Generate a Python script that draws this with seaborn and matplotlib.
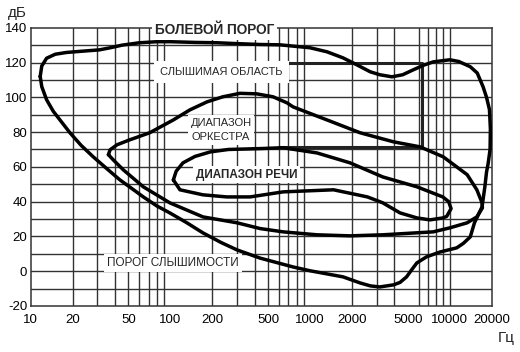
import matplotlib
matplotlib.use("Agg")
import matplotlib.pyplot as plt
from matplotlib.ticker import NullFormatter
import seaborn as sns
import pandas as pd

# Hearing area (closed curve): frequency, Hz / level, dB
outer_hz = [11.7, 12.0, 13.0, 15.0, 18.0, 21.4, 31.0, 37.0, 45.0, 60.0, 80.0, 100.0, 150.0,
            215.0, 300.0, 437.0, 610.0, 1000.0, 1320.0, 1720.0, 2160.0, 2690.0, 3150.0,
            3850.0, 4600.0, 5460.0, 6500.0, 7600.0, 10000.0, 11600.0, 14000.0, 15700.0,
            17300.0, 18300.0, 19200.0, 19500.0, 19400.0, 18800.0, 18300.0, 17800.0, 17000.0,
            15000.0, 14000.0, 12500.0, 11200.0, 8500.0, 6800.0, 5800.0, 5300.0, 4900.0,
            4400.0, 3950.0, 3150.0, 2700.0, 2280.0, 1720.0, 1000.0, 755.0, 438.0, 300.0,
            230.0, 171.0, 130.0, 99.0, 80.0, 64.0, 52.0, 43.5, 35.0, 28.0, 23.0, 19.1,
            16.2, 14.5, 13.0, 12.0, 11.7]
outer_db = [112.0, 118.0, 122.5, 124.8, 125.8, 126.3, 127.3, 128.5, 130.0, 131.4, 132.0, 132.0,
            131.6, 131.4, 130.9, 130.4, 130.2, 128.5, 126.2, 122.7, 118.7, 114.7, 113.0,
            111.8, 113.0, 115.8, 118.5, 120.4, 121.6, 120.6, 117.6, 114.0, 106.0, 100.0,
            93.0, 82.0, 70.0, 62.0, 57.0, 48.5, 37.0, 27.8, 19.7, 16.0, 13.4, 11.0, 8.2,
            4.7, 0.5, -3.3, -6.5, -7.9, -9.1, -8.5, -6.8, -3.3, 0.2, 2.4, 7.5, 12.2, 16.5,
            22.0, 28.0, 33.5, 37.5, 42.7, 48.0, 52.5, 59.0, 65.8, 72.3, 79.6, 87.0, 92.0,
            98.6, 106.2, 112.0]

# Orchestra range (closed curve)
orch_hz = [36.0, 37.0, 41.5, 51.0, 71.0, 105.0, 138.0, 183.0, 237.0, 315.0, 415.0, 543.0,
           684.0, 755.0, 1320.0, 2280.0, 3950.0, 6120.0, 8950.0, 13300.0, 15600.0, 17000.0,
           17100.0, 15600.0, 13300.0, 10000.0, 7600.0, 3310.0, 1930.0, 1120.0, 640.0,
           438.0, 300.0, 171.0, 99.0, 64.0, 46.0, 39.0, 36.0]
orch_db = [67.0, 69.8, 72.7, 75.5, 79.6, 87.0, 92.8, 97.4, 100.3, 102.3, 102.0, 100.3, 96.8,
           94.5, 87.0, 79.6, 74.4, 71.5, 65.8, 55.5, 46.8, 39.3, 36.4, 31.2, 27.8, 24.9,
           22.6, 20.9, 20.3, 20.9, 22.6, 24.5, 27.8, 31.2, 39.3, 48.5, 58.3, 64.0, 67.0]

# Speech range (closed curve)
speech_hz = [105.0, 110.0, 123.0, 150.0, 193.0, 260.0, 438.0, 640.0, 1120.0, 1930.0, 3310.0,
             5820.0, 8900.0, 9800.0, 10200.0, 9500.0, 8900.0, 7200.0, 5820.0, 4400.0, 3310.0,
             2570.0, 1470.0, 640.0, 372.0, 253.0, 171.0, 117.0, 105.0]
speech_db = [52.5, 57.5, 62.3, 66.0, 68.6, 70.0, 70.5, 71.0, 68.0, 62.3, 54.2, 48.5, 42.7,
             40.0, 36.0, 31.5, 30.6, 29.5, 30.6, 33.5, 39.3, 42.7, 46.8, 45.6, 42.7, 42.7,
             43.9, 46.8, 52.5]

# Music frame
frame_hz = [600.0, 6300.0, 6300.0, 600.0]
frame_db = [120.0, 120.0, 71.5, 71.5]

xtick_vals = [10, 20, 50, 100, 200, 500, 1000, 2000, 5000, 10000, 20000]
xtick_labels = ["10", "20", "50", "100", "200", "500", "1000", "2000", "5000", "10000", "20000"]
xgrid_vals = ([10 * k for k in range(2, 10)] + [100 * k for k in range(2, 10)]
              + [1000 * k for k in range(2, 10) if k != 5] + [10000])
ytick_vals = list(range(-20, 141, 20))
ytick_labels = [str(v) for v in ytick_vals]
ygrid_vals = list(range(-10, 131, 10))

sns.set_style("white")
plt.rcParams['font.family'] = ['Liberation Sans', 'DejaVu Sans']
plt.rcParams['axes.unicode_minus'] = False

fig = plt.figure(figsize=(5.2, 3.52), dpi=100)
ax = fig.add_axes([0.059, 0.131, 0.887, 0.790])
ax.set_xscale("log")

line_kw = dict(color="black", lw=2.5, sort=False, estimator=None,
               solid_joinstyle="round", solid_capstyle="round", ax=ax, zorder=3)
for hz, db in [(outer_hz, outer_db), (orch_hz, orch_db), (speech_hz, speech_db)]:
    df = pd.DataFrame({"hz": hz, "db": db})
    sns.lineplot(data=df, x="hz", y="db", **line_kw)

fdf = pd.DataFrame({"hz": frame_hz, "db": frame_db})
sns.lineplot(data=fdf, x="hz", y="db", color="#222222", lw=2.2, sort=False, estimator=None,
             ax=ax, zorder=2)

ax.set_xlim(10, 20000)
ax.set_ylim(-20, 140)
ax.xaxis.remove_overlapping_locs = False
ax.yaxis.remove_overlapping_locs = False
ax.set_xticks(xtick_vals)
ax.set_xticklabels(xtick_labels)
ax.set_xticks(xgrid_vals, minor=True)
ax.xaxis.set_minor_formatter(NullFormatter())
ax.set_yticks(ytick_vals)
ax.set_yticklabels(ytick_labels)
ax.set_yticks(ygrid_vals, minor=True)
ax.yaxis.set_minor_formatter(NullFormatter())
ax.tick_params(which="both", length=0, labelsize=9.5, colors="black")
ax.tick_params(axis="y", pad=2.5)
ax.tick_params(axis="x", pad=6)
ax.grid(False)
ax.grid(which="minor", axis="both", color="#333333", lw=1.0)
ax.set_axisbelow(True)
for sp in ax.spines.values():
    sp.set_color("#333333")
    sp.set_linewidth(1.1)
ax.set_xlabel("")
ax.set_ylabel("")

box = dict(facecolor="white", edgecolor="none", pad=2.0)
ax.text(208, 138.8, "БОЛЕВОЙ ПОРОГ", ha="center", va="center", fontsize=9.8,
        fontweight="bold", bbox=box, zorder=5)
ax.text(231, 114.7, "СЛЫШИМАЯ ОБЛАСТЬ", ha="center", va="center", fontsize=8,
        bbox=dict(facecolor="white", edgecolor="none", pad=4.5), zorder=5)
ax.text(230, 81.3, "ДИАПАЗОН\nОРКЕСТРА", ha="center", va="center", fontsize=8,
        linespacing=1.5, bbox=box, zorder=5)
ax.text(353, 55.5, "ДИАПАЗОН РЕЧИ", ha="center", va="center", fontsize=8.4,
        fontweight="bold", bbox=box, zorder=5)
ax.text(104.5, 4.7, "ПОРОГ СЛЫШИМОСТИ", ha="center", va="center", fontsize=8.5,
        bbox=box, zorder=5)

fig.text(0.034, 0.963, "дБ", ha="center", va="center", fontsize=11)
fig.text(0.973, 0.040, "Гц", ha="center", va="center", fontsize=11)

fig.savefig("out.png", dpi=100, facecolor="white")
